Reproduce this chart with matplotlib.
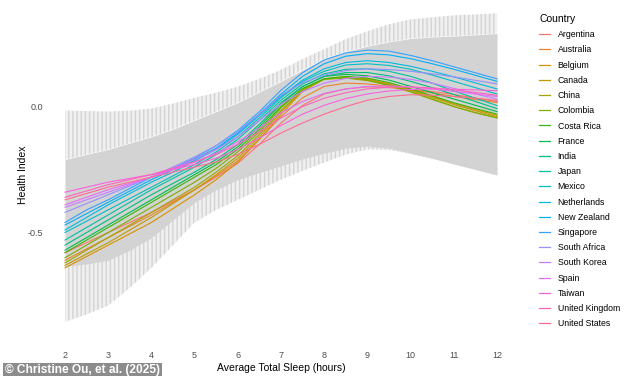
import matplotlib
matplotlib.use('Agg')
import matplotlib.pyplot as plt
from matplotlib.lines import Line2D

plt.rcParams['font.family'] = ['Liberation Sans', 'DejaVu Sans']
plt.rcParams['hatch.linewidth'] = 1.0

# Sleep hours, read every half hour
hours = [2, 2.5, 3, 3.5, 4, 4.5, 5, 5.5, 6, 6.5, 7, 7.5, 8, 8.5, 9, 9.5, 10, 10.5, 11, 11.5, 12]
tick_hours = [2, 3, 4, 5, 6, 7, 8, 9, 10, 11, 12]

countries = ['Argentina', 'Australia', 'Belgium', 'Canada', 'China', 'Colombia',
             'Costa Rica', 'France', 'India', 'Japan', 'Mexico', 'Netherlands',
             'New Zealand', 'Singapore', 'South Africa', 'South Korea', 'Spain',
             'Taiwan', 'United Kingdom', 'United States']

# ggplot default hue palette for 20 levels
colors = ['#F8766D', '#EA8331', '#D89000', '#C09B00', '#A3A500', '#7CAE00',
          '#39B600', '#00BB4E', '#00BF7D', '#00C1A3', '#00BFC4', '#00BAE0',
          '#00B0F6', '#35A2FF', '#9590FF', '#C77CFF', '#E76BF3', '#FA62DB',
          '#FF62BC', '#FF6C91']

# Health index per country
argentina = [-0.58, -0.54, -0.50, -0.46, -0.42, -0.375, -0.33, -0.28, -0.225, -0.15, -0.065,
             0.005, 0.05, 0.07, 0.078, 0.075, 0.068, 0.06, 0.048, 0.034, 0.02]
australia = [-0.61, -0.565, -0.52, -0.475, -0.43, -0.38, -0.33, -0.275, -0.215, -0.13, -0.04,
             0.035, 0.08, 0.093, 0.09, 0.08, 0.068, 0.054, 0.04, 0.028, 0.016]
belgium = [-0.64, -0.595, -0.55, -0.505, -0.46, -0.405, -0.35, -0.29, -0.22, -0.13, -0.03,
           0.06, 0.11, 0.118, 0.11, 0.09, 0.066, 0.04, 0.012, -0.012, -0.035]
canada = [-0.63, -0.585, -0.54, -0.49, -0.44, -0.385, -0.33, -0.27, -0.205, -0.12, -0.02,
          0.063, 0.11, 0.117, 0.107, 0.088, 0.064, 0.036, 0.008, -0.017, -0.04]
china = [-0.62, -0.57, -0.52, -0.47, -0.42, -0.37, -0.32, -0.26, -0.195, -0.11, -0.015,
         0.065, 0.108, 0.113, 0.103, 0.083, 0.058, 0.028, 0.0, -0.024, -0.045]
colombia = [-0.60, -0.55, -0.50, -0.45, -0.40, -0.35, -0.30, -0.245, -0.18, -0.10, -0.005,
            0.07, 0.11, 0.115, 0.105, 0.085, 0.06, 0.03, 0.0, -0.025, -0.045]
costa_rica = [-0.58, -0.53, -0.48, -0.43, -0.38, -0.33, -0.28, -0.23, -0.17, -0.09, 0.0,
              0.072, 0.11, 0.12, 0.113, 0.095, 0.07, 0.043, 0.015, -0.008, -0.03]
france = [-0.57, -0.52, -0.47, -0.42, -0.37, -0.32, -0.27, -0.22, -0.16, -0.08, 0.01,
          0.08, 0.12, 0.128, 0.122, 0.105, 0.08, 0.055, 0.03, 0.005, -0.02]
india = [-0.55, -0.50, -0.45, -0.40, -0.35, -0.305, -0.26, -0.21, -0.15, -0.07, 0.015,
         0.08, 0.12, 0.135, 0.135, 0.122, 0.10, 0.075, 0.048, 0.02, -0.008]
japan = [-0.53, -0.48, -0.43, -0.38, -0.33, -0.285, -0.24, -0.19, -0.13, -0.055, 0.025,
         0.09, 0.13, 0.148, 0.15, 0.14, 0.12, 0.093, 0.062, 0.033, 0.004]
mexico = [-0.50, -0.455, -0.41, -0.365, -0.32, -0.275, -0.23, -0.18, -0.12, -0.045, 0.035,
          0.10, 0.14, 0.165, 0.17, 0.163, 0.148, 0.125, 0.10, 0.075, 0.05]
netherlands = [-0.49, -0.44, -0.39, -0.345, -0.30, -0.26, -0.215, -0.17, -0.11, -0.035, 0.04,
               0.105, 0.15, 0.175, 0.182, 0.175, 0.16, 0.14, 0.118, 0.094, 0.07]
new_zealand = [-0.47, -0.425, -0.38, -0.335, -0.29, -0.25, -0.21, -0.165, -0.105, -0.03, 0.05,
               0.12, 0.17, 0.20, 0.21, 0.205, 0.19, 0.17, 0.148, 0.124, 0.10]
singapore = [-0.46, -0.41, -0.37, -0.325, -0.28, -0.245, -0.205, -0.155, -0.095, -0.02, 0.065,
             0.135, 0.185, 0.213, 0.224, 0.22, 0.203, 0.182, 0.158, 0.134, 0.11]
south_africa = [-0.42, -0.385, -0.35, -0.315, -0.28, -0.24, -0.20, -0.155, -0.10, -0.03, 0.045,
                0.095, 0.125, 0.143, 0.15, 0.147, 0.14, 0.13, 0.118, 0.104, 0.09]
south_korea = [-0.40, -0.37, -0.34, -0.31, -0.28, -0.245, -0.21, -0.17, -0.12, -0.055, 0.01,
               0.06, 0.093, 0.112, 0.12, 0.117, 0.108, 0.093, 0.072, 0.05, 0.03]
spain = [-0.39, -0.36, -0.33, -0.305, -0.28, -0.25, -0.22, -0.185, -0.14, -0.085, -0.025,
         0.02, 0.052, 0.07, 0.08, 0.082, 0.078, 0.07, 0.06, 0.05, 0.04]
taiwan = [-0.34, -0.32, -0.30, -0.285, -0.27, -0.25, -0.23, -0.205, -0.17, -0.125, -0.075,
          -0.03, 0.005, 0.032, 0.05, 0.062, 0.068, 0.07, 0.069, 0.066, 0.063]
united_kingdom = [-0.36, -0.335, -0.31, -0.29, -0.27, -0.245, -0.22, -0.19, -0.15, -0.10, -0.045,
                  0.0, 0.033, 0.055, 0.07, 0.077, 0.078, 0.074, 0.066, 0.056, 0.045]
united_states = [-0.37, -0.345, -0.32, -0.30, -0.28, -0.26, -0.24, -0.22, -0.19, -0.15, -0.105,
                 -0.065, -0.03, 0.0, 0.025, 0.04, 0.047, 0.045, 0.04, 0.033, 0.025]

series = [argentina, australia, belgium, canada, china, colombia, costa_rica,
          france, india, japan, mexico, netherlands, new_zealand, singapore,
          south_africa, south_korea, spain, taiwan, united_kingdom, united_states]

# Confidence ribbon: solid part and the jagged outer fringe
band_hi_outer = [-0.016, -0.018, -0.02, -0.016, -0.008, 0.012, 0.035, 0.055, 0.079, 0.11, 0.146,
                 0.189, 0.228, 0.268, 0.299, 0.327, 0.346, 0.354, 0.362, 0.366, 0.37]
band_hi_inner = [-0.21, -0.19, -0.17, -0.145, -0.12, -0.09, -0.055, -0.02, 0.016, 0.058, 0.10,
                 0.145, 0.19, 0.218, 0.24, 0.257, 0.27, 0.276, 0.28, 0.285, 0.29]
band_lo_inner = [-0.634, -0.625, -0.61, -0.57, -0.52, -0.45, -0.38, -0.33, -0.29, -0.262, -0.235,
                 -0.208, -0.185, -0.165, -0.157, -0.165, -0.185, -0.205, -0.228, -0.25, -0.272]
band_lo_outer = [-0.854, -0.825, -0.79, -0.72, -0.64, -0.55, -0.46, -0.41, -0.37, -0.33, -0.29,
                 -0.255, -0.222, -0.19, -0.17, -0.172, -0.188, -0.207, -0.229, -0.25, -0.272]

fig = plt.figure(figsize=(6.34, 3.76), dpi=100)
ax = fig.add_axes([0.0855, 0.07, 0.7155, 0.928])

# fringe of the ribbon drawn as light vertical hatching
for lo, hi in [(band_hi_inner, band_hi_outer), (band_lo_outer, band_lo_inner)]:
    ax.fill_between(hours, lo, hi, facecolor='#f0f0f0', edgecolor='#d3d3d3',
                    hatch='||||', linewidth=0, zorder=1)
ax.fill_between(hours, band_lo_inner, band_hi_inner, color='#d3d3d3', linewidth=0, zorder=2)

for vals, col in zip(series, colors):
    ax.plot(hours, vals, color=col, linewidth=0.8, zorder=3)

ax.set_xlim(1.75, 12.25)
ax.set_ylim(-0.965, 0.42)
ax.set_xticks(tick_hours)
ax.set_yticks([-0.5, 0.0])
ax.set_yticklabels(['-0.5', '0.0'])
for s in ax.spines.values():
    s.set_visible(False)
ax.tick_params(length=0, labelsize=6.5, labelcolor='#4d4d4d', pad=8)
ax.tick_params(axis='x', pad=1)
ax.set_xlabel('Average Total Sleep (hours)', fontsize=7.5, labelpad=2)
ax.set_ylabel('Health Index', fontsize=7.5, labelpad=0)

handles = [Line2D([], [], color=c, linewidth=0.9) for c in colors]
leg = fig.legend(handles, countries, loc='upper left', bbox_to_anchor=(0.845, 0.972),
                 frameon=False, title='Country', fontsize=6.3, title_fontsize=7.5,
                 handlelength=1.2, handletextpad=0.9, labelspacing=0.71,
                 alignment='left', borderaxespad=0)

fig.text(0.008, 0.015, '\u00a9 Christine Ou, et al. (2025)', color='white',
         fontsize=8.6, fontweight='bold', va='center', ha='left',
         bbox=dict(boxstyle='square,pad=0.15', facecolor='#8c8c8c', edgecolor='none'))

plt.savefig('out.png', dpi=100)
